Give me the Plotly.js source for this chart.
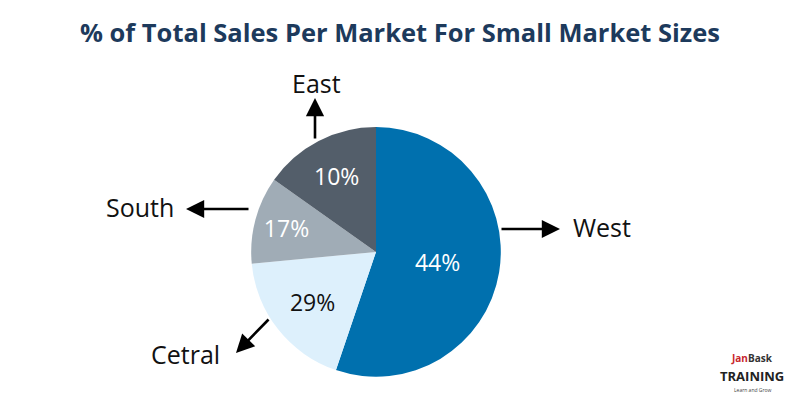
<!DOCTYPE html>
<html>
<head>
<meta charset="utf-8">
<script src="https://cdn.plot.ly/plotly-3.0.1.min.js"></script>
<style>html,body{margin:0;padding:0;background:#fff;}#chart{width:800px;height:393px;}</style>
</head>
<body>
<div id="chart"></div>
<script>
// Markets in drawing order (clockwise from 12 o'clock)
const markets = ["West", "Cetral", "South", "East"];
// Slice sizes as drawn in the picture (share of the circle, %)
const sliceShares = [55.2, 18.3, 11.3, 15.2];
// Percent labels printed on the slices
const sliceLabels = ["44%", "29%", "17%", "10%"];
const sliceColors = ["#0070ae", "#ddf0fc", "#a0acb6", "#535e6a"];
const labelColors = ["#ffffff", "#111111", "#ffffff", "#ffffff"];

const FONT = "Open Sans, Lato, sans-serif";

const trace = {
  type: "pie",
  values: sliceShares,
  labels: markets,
  text: sliceLabels,
  textinfo: "text",
  textposition: "inside",
  insidetextorientation: "horizontal",
  insidetextfont: {family: FONT, size: 23, color: labelColors},
  sort: false,
  direction: "clockwise",
  rotation: 0,
  marker: {colors: sliceColors, line: {width: 0}},
  domain: {x: [0.314, 0.626], y: [0.041, 0.677]},
  showlegend: false,
  hoverinfo: "label+text"
};

function arrow(hx, hy, tx, ty) {
  return {xref: "paper", yref: "paper", x: hx / 800, y: 1 - hy / 393,
    axref: "pixel", ayref: "pixel", ax: tx - hx, ay: ty - hy,
    text: "", showarrow: true, arrowhead: 2, arrowsize: 1.4, arrowwidth: 2.6, arrowcolor: "#000"};
}
function label(txt, cx, cy) {
  return {xref: "paper", yref: "paper", x: cx / 800, y: 1 - cy / 393,
    xanchor: "center", yanchor: "middle", text: txt, showarrow: false,
    font: {family: FONT, size: 25, color: "#111"}};
}
function logo(txt, cx, cy, size, color) {
  return {xref: "paper", yref: "paper", x: cx / 800, y: 1 - cy / 393, xanchor: "center", yanchor: "middle",
    text: txt, showarrow: false, borderpad: 0, font: {family: FONT, size: size, color: color}};
}

const layout = {
  width: 800, height: 393,
  margin: {l: 0, r: 0, t: 0, b: 0},
  paper_bgcolor: "#ffffff",
  title: {text: "<b>% of Total Sales Per Market For Small Market Sizes</b>",
    x: 0.5, xanchor: "center", y: 1 - 33 / 393, yanchor: "middle",
    font: {family: FONT, size: 25.5, color: "#1d3a5c"}},
  annotations: [
    arrow(315, 98, 315, 140), label(markets[3], 316, 83),
    arrow(186, 209, 250, 209), label(markets[2], 140, 207),
    arrow(560, 229, 500, 229), label(markets[0], 602, 227),
    arrow(236, 353, 270, 318), label(markets[1], 185, 354),
    logo("<b><span style='color:#c8252c'>Jan</span>Bask</b>", 752, 358, 10, "#333"),
    logo("<b>TRAINING</b>", 752, 376, 13, "#222"),
    logo("Learn and Grow", 752, 390, 5, "#444")
  ]
};

Plotly.newPlot("chart", [trace], layout, {displayModeBar: false, staticPlot: true});
</script>
</body>
</html>
